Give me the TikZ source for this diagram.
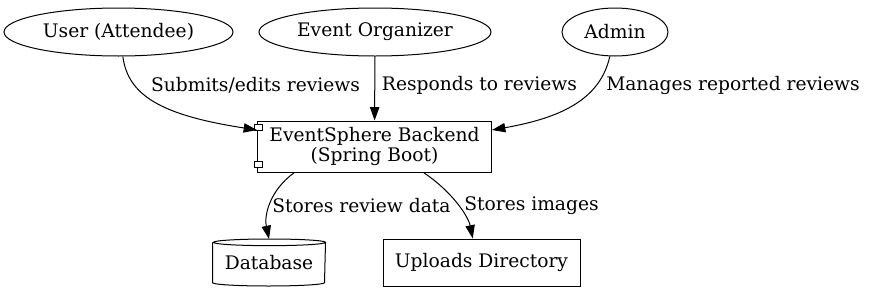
\documentclass[tikz,border=0pt]{standalone}
\usepackage{fontspec}
\setmainfont{DejaVu Serif}
\usetikzlibrary{arrows.meta,shapes.geometric}

\tikzset{
  actor/.style={draw, ellipse, inner sep=0pt, minimum height=36pt},
  box/.style={draw, rectangle, inner sep=0pt},
  flow/.style={-{Triangle[length=10pt,width=7pt]}},
  port/.style={draw, fill=white, minimum width=6pt, minimum height=4.5pt, inner sep=0pt}
}

\begin{document}
\begin{tikzpicture}[x=0.75pt, y=-0.75pt, line width=0.75pt,
    every node/.append style={font=\fontsize{14pt}{15pt}\selectfont}]
        \useasboundingbox (0,0) rectangle (874,293);

        \node[actor, minimum width=171.75pt] (user) at (118.5,32) {User (Attendee)};
        \node[actor, minimum width=174pt] (organizer) at (375,32) {Event Organizer};
        \node[actor, minimum width=79.5pt] (admin) at (615,32) {Admin};

        \node[box, minimum width=175.5pt, minimum height=38.25pt, align=center] (backend) at (374.5,146.5) {EventSphere Backend\\(Spring Boot)};
        \node[port] (porta) at (258.5,127.5) {};
        \node[port] (portb) at (258.5,164) {};

        \node[minimum width=84pt, minimum height=34.5pt, inner sep=0pt] (db) at (269,262.5) {Database};
        \draw ([yshift=-2.5pt]db.north west) -- ([yshift=2.5pt]db.south west)
            arc[start angle=180, end angle=360, x radius=42pt, y radius=2.5pt]
            -- ([yshift=-2.5pt]db.north east)
            arc[start angle=0, end angle=180, x radius=42pt, y radius=2.5pt]
            arc[start angle=180, end angle=360, x radius=42pt, y radius=2.5pt];
        \node[box, minimum width=147.75pt, minimum height=35.25pt] (uploads) at (481.5,262.5) {Uploads Directory};

        \draw[flow] (user.-80) .. controls (128,95) and (160,115) .. (backend.172);
        \draw[flow] (organizer) -- (backend);
        \draw[flow] (admin.-102) .. controls (600,100) and (560,118) .. (backend.8);
        \draw[flow] (backend.-162) .. controls (270,190) and (264,215) .. (db.north);
        \draw[flow] (backend.-28) .. controls (450,190) and (468,215) .. (uploads.110);

        \node (lsubmit) at (255.5,85.5) {Submits/edits reviews};
        \node (lrespond) at (479.5,85.5) {Responds to reviews};
        \node (lmanage) at (733,85.5) {Manages reported reviews};
        \node (lreview) at (361.5,205.5) {Stores review data};
        \node (limages) at (531.5,205.5) {Stores images};
    \end{tikzpicture}
\end{document}
